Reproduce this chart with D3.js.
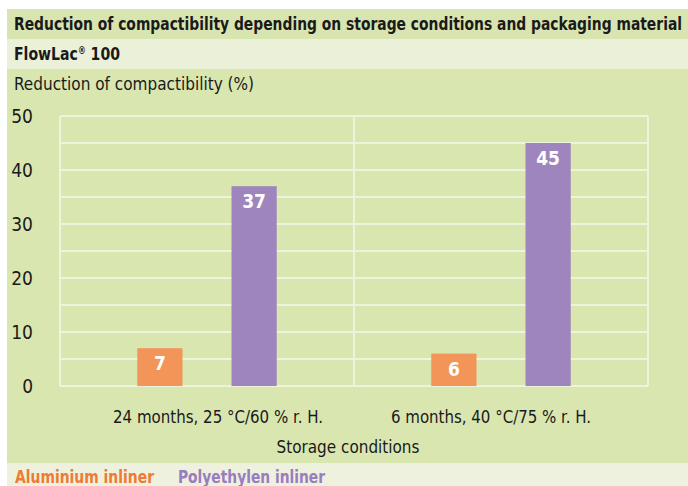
<!DOCTYPE html>
<html>
<head>
<meta charset="utf-8">
<script src="https://cdn.jsdelivr.net/npm/d3@7"></script>
<style>
  body { margin: 0; background: #ffffff; }
  text { font-family: "DejaVu Sans Condensed", "DejaVu Sans", sans-serif; font-stretch: condensed; }
</style>
</head>
<body>
<div id="chart"></div>
<script>
// data
var conditions = ["24 months, 25 °C/60 % r. H.", "6 months, 40 °C/75 % r. H."];
var series = ["Aluminium inliner", "Polyethylen inliner"];
var aluminium = [7, 6];
var polyethylen = [37, 45];
var yTicks = [0, 10, 20, 30, 40, 50];

var colors = ["#f39559", "#9e85bd"];
var legendColors = ["#ef7a33", "#9a7cc0"];

var W = 688, H = 486;
var svg = d3.select("#chart").append("svg")
    .attr("width", W)
    .attr("height", H);

// background bands
svg.append("rect").attr("x", 7).attr("y", 9).attr("width", W - 7).attr("height", 30).attr("fill", "#d8e5b0");
svg.append("rect").attr("x", 7).attr("y", 39).attr("width", W - 7).attr("height", 30).attr("fill", "#ebf0d9");
svg.append("rect").attr("x", 7).attr("y", 69).attr("width", W - 7).attr("height", 394).attr("fill", "#d9e6b0");
svg.append("rect").attr("x", 7).attr("y", 463).attr("width", W - 7).attr("height", 23).attr("fill", "#edf1dd");

// headings (squeezed to the width of the condensed original face)
svg.append("text")
    .attr("x", 14).attr("y", 30)
    .attr("font-size", 18).attr("font-weight", "bold").attr("fill", "#1a1a1a")
    .attr("textLength", 668).attr("lengthAdjust", "spacingAndGlyphs")
    .text("Reduction of compactibility depending on storage conditions and packaging material");

var fl = svg.append("text")
    .attr("x", 14).attr("y", 60)
    .attr("font-size", 18).attr("font-weight", "bold").attr("fill", "#1a1a1a")
    .attr("textLength", 106).attr("lengthAdjust", "spacingAndGlyphs");
fl.append("tspan").text("FlowLac");
fl.append("tspan").attr("font-size", 10).attr("dy", -6).text("®");
fl.append("tspan").attr("dy", 6).text(" 100");

svg.append("text")
    .attr("x", 14).attr("y", 90)
    .attr("font-size", 18).attr("fill", "#1a1a1a")
    .attr("textLength", 240).attr("lengthAdjust", "spacingAndGlyphs")
    .text("Reduction of compactibility (%)");

// scales
var plot = { left: 60, right: 648, top: 116, bottom: 386 };

var x0 = d3.scaleBand()
    .domain(conditions)
    .range([plot.left, plot.right])
    .padding(0);

var x1 = d3.scaleBand()
    .domain(series)
    .range([0, x0.bandwidth()])
    .paddingInner(0.52)
    .paddingOuter(0.82);

var y = d3.scaleLinear()
    .domain([0, 50])
    .range([plot.bottom, plot.top]);

// grid (every 5)
var grid = svg.append("g").attr("class", "grid");
grid.selectAll("line.h")
    .data(d3.range(0, 55, 5))
    .enter().append("line")
    .attr("class", "h")
    .attr("x1", plot.left).attr("x2", plot.right)
    .attr("y1", function(d) { return y(d); })
    .attr("y2", function(d) { return y(d); })
    .attr("stroke", "#eef3dc").attr("stroke-width", 2);

grid.selectAll("line.v")
    .data([plot.left, x0(conditions[1]), plot.right])
    .enter().append("line")
    .attr("class", "v")
    .attr("x1", function(d) { return d; }).attr("x2", function(d) { return d; })
    .attr("y1", plot.top).attr("y2", plot.bottom)
    .attr("stroke", "#eef3dc").attr("stroke-width", 2);

// y tick labels
svg.append("g").selectAll("text")
    .data(yTicks)
    .enter().append("text")
    .attr("x", 33)
    .attr("y", function(d) { return y(d); })
    .attr("dy", "0.35em")
    .attr("text-anchor", "end")
    .attr("font-size", 19)
    .attr("fill", "#1a1a1a")
    .text(function(d) { return d; });

// bars
var rows = conditions.map(function(c, i) {
    return { cond: c, values: [aluminium[i], polyethylen[i]] };
});

var groups = svg.append("g").selectAll("g")
    .data(rows)
    .enter().append("g")
    .attr("transform", function(d) { return "translate(" + x0(d.cond) + ",0)"; });

var bars = groups.selectAll("g")
    .data(function(d) {
        return series.map(function(s, j) { return { key: s, value: d.values[j], idx: j }; });
    })
    .enter().append("g");

bars.append("rect")
    .attr("x", function(d) { return x1(d.key); })
    .attr("y", function(d) { return y(d.value); })
    .attr("width", x1.bandwidth())
    .attr("height", function(d) { return y(0) - y(d.value); })
    .attr("fill", function(d) { return colors[d.idx]; });

bars.append("text")
    .attr("x", function(d) { return x1(d.key) + x1.bandwidth() / 2; })
    .attr("y", function(d) { return y(d.value) + 22; })
    .attr("text-anchor", "middle")
    .attr("font-size", 19)
    .attr("font-weight", "bold")
    .attr("fill", "#ffffff")
    .text(function(d) { return d.value; });

// x labels (slightly off-centre in the original)
var labelShift = [11, -10];
var labelWidth = [210, 200];
svg.append("g").selectAll("text")
    .data(conditions)
    .enter().append("text")
    .attr("x", function(d, i) { return x0(d) + x0.bandwidth() / 2 + labelShift[i]; })
    .attr("y", 423)
    .attr("text-anchor", "middle")
    .attr("font-size", 18)
    .attr("fill", "#1a1a1a")
    .attr("textLength", function(d, i) { return labelWidth[i]; })
    .attr("lengthAdjust", "spacingAndGlyphs")
    .text(function(d) { return d; });

svg.append("text")
    .attr("x", 348)
    .attr("y", 453)
    .attr("text-anchor", "middle")
    .attr("font-size", 18)
    .attr("fill", "#1a1a1a")
    .attr("textLength", 143).attr("lengthAdjust", "spacingAndGlyphs")
    .text("Storage conditions");

// legend
var legendX = [15, 178];
var legendW = [139, 147];
svg.append("g").selectAll("text")
    .data(series)
    .enter().append("text")
    .attr("x", function(d, i) { return legendX[i]; })
    .attr("y", 483)
    .attr("font-size", 18)
    .attr("font-weight", "bold")
    .attr("fill", function(d, i) { return legendColors[i]; })
    .attr("textLength", function(d, i) { return legendW[i]; })
    .attr("lengthAdjust", "spacingAndGlyphs")
    .text(function(d) { return d; });
</script>
</body>
</html>
